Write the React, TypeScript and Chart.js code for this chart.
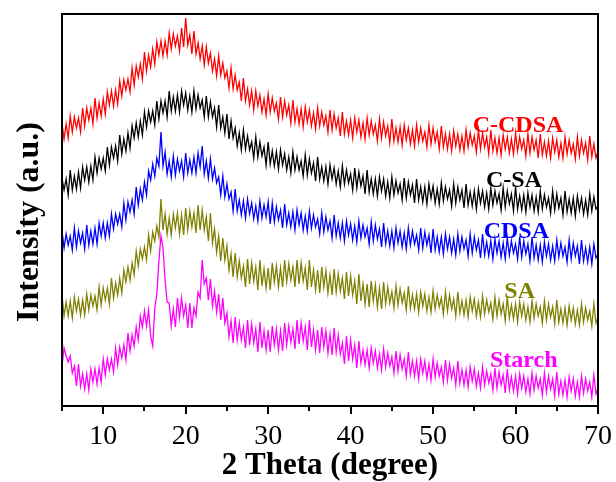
import React, { useEffect, useRef } from "react";
import { Chart, registerables } from "chart.js";
Chart.register(...registerables);

// 2θ grid (degree), 0.25° step
const twoTheta = [
  5, 5.25, 5.5, 5.75, 6, 6.25, 6.5, 6.75, 7, 7.25, 7.5, 7.75, 8, 8.25, 8.5, 8.75, 9, 9.25, 9.5, 9.75,
  10, 10.25, 10.5, 10.75, 11, 11.25, 11.5, 11.75, 12, 12.25, 12.5, 12.75, 13, 13.25, 13.5, 13.75, 14, 14.25, 14.5, 14.75,
  15, 15.25, 15.5, 15.75, 16, 16.25, 16.5, 16.75, 17, 17.25, 17.5, 17.75, 18, 18.25, 18.5, 18.75, 19, 19.25, 19.5, 19.75,
  20, 20.25, 20.5, 20.75, 21, 21.25, 21.5, 21.75, 22, 22.25, 22.5, 22.75, 23, 23.25, 23.5, 23.75, 24, 24.25, 24.5, 24.75,
  25, 25.25, 25.5, 25.75, 26, 26.25, 26.5, 26.75, 27, 27.25, 27.5, 27.75, 28, 28.25, 28.5, 28.75, 29, 29.25, 29.5, 29.75,
  30, 30.25, 30.5, 30.75, 31, 31.25, 31.5, 31.75, 32, 32.25, 32.5, 32.75, 33, 33.25, 33.5, 33.75, 34, 34.25, 34.5, 34.75,
  35, 35.25, 35.5, 35.75, 36, 36.25, 36.5, 36.75, 37, 37.25, 37.5, 37.75, 38, 38.25, 38.5, 38.75, 39, 39.25, 39.5, 39.75,
  40, 40.25, 40.5, 40.75, 41, 41.25, 41.5, 41.75, 42, 42.25, 42.5, 42.75, 43, 43.25, 43.5, 43.75, 44, 44.25, 44.5, 44.75,
  45, 45.25, 45.5, 45.75, 46, 46.25, 46.5, 46.75, 47, 47.25, 47.5, 47.75, 48, 48.25, 48.5, 48.75, 49, 49.25, 49.5, 49.75,
  50, 50.25, 50.5, 50.75, 51, 51.25, 51.5, 51.75, 52, 52.25, 52.5, 52.75, 53, 53.25, 53.5, 53.75, 54, 54.25, 54.5, 54.75,
  55, 55.25, 55.5, 55.75, 56, 56.25, 56.5, 56.75, 57, 57.25, 57.5, 57.75, 58, 58.25, 58.5, 58.75, 59, 59.25, 59.5, 59.75,
  60, 60.25, 60.5, 60.75, 61, 61.25, 61.5, 61.75, 62, 62.25, 62.5, 62.75, 63, 63.25, 63.5, 63.75, 64, 64.25, 64.5, 64.75,
  65, 65.25, 65.5, 65.75, 66, 66.25, 66.5, 66.75, 67, 67.25, 67.5, 67.75, 68, 68.25, 68.5, 68.75, 69, 69.25, 69.5, 69.75,
  70,
];

// intensities (a.u.), curves stacked with offsets as in the figure
const cCDSA = [
  283, 267, 282, 268, 290, 274, 289, 278, 288, 274, 298, 280, 298, 286, 298, 282, 308, 288, 303, 290,
  307, 292, 314, 301, 315, 300, 316, 302, 325, 310, 326, 316, 327, 314, 338, 321, 340, 329, 342, 327,
  354, 335, 351, 339, 357, 342, 364, 351, 365, 350, 365, 351, 373, 357, 372, 360, 370, 355, 378, 359,
  388, 361, 371, 352, 375, 352, 363, 347, 360, 341, 359, 343, 353, 335, 347, 330, 350, 331, 343, 328,
  335, 318, 338, 317, 331, 316, 324, 305, 328, 305, 317, 301, 315, 296, 315, 300, 311, 294, 307, 291,
  312, 294, 308, 295, 303, 287, 309, 289, 305, 291, 301, 283, 306, 284, 297, 282, 297, 279, 299, 284,
  296, 280, 293, 277, 298, 280, 294, 281, 290, 274, 296, 276, 292, 278, 288, 270, 294, 272, 285, 271,
  286, 268, 288, 274, 286, 269, 283, 267, 288, 271, 285, 272, 281, 265, 287, 268, 284, 270, 280, 263,
  287, 265, 278, 264, 279, 261, 281, 266, 278, 262, 276, 260, 281, 264, 278, 265, 274, 259, 281, 262,
  278, 264, 274, 257, 280, 259, 272, 257, 272, 255, 275, 260, 272, 256, 270, 255, 276, 259, 273, 261,
  270, 254, 276, 257, 273, 259, 269, 252, 276, 255, 268, 253, 268, 251, 271, 257, 269, 253, 267, 252,
  273, 255, 269, 257, 266, 250, 272, 253, 269, 256, 266, 248, 272, 251, 264, 250, 265, 248, 268, 254,
  266, 249, 263, 248, 269, 252, 266, 253, 262, 247, 269, 250, 266, 253, 263, 246, 270, 249, 262, 248,
  255,
];

const cSA = [
  228, 216, 227, 211, 236, 216, 230, 217, 234, 218, 239, 226, 239, 224, 240, 226, 249, 233, 248, 237,
  248, 235, 259, 241, 259, 248, 260, 245, 271, 252, 267, 255, 273, 258, 280, 268, 283, 269, 285, 271,
  294, 279, 295, 284, 295, 281, 305, 287, 305, 293, 305, 289, 315, 295, 309, 295, 311, 294, 315, 301,
  313, 296, 310, 294, 315, 297, 311, 298, 306, 289, 310, 289, 304, 289, 298, 279, 301, 278, 289, 273,
  292, 267, 285, 268, 278, 260, 273, 256, 276, 257, 270, 256, 264, 248, 269, 249, 264, 250, 259, 241,
  264, 242, 255, 240, 254, 237, 256, 241, 252, 236, 249, 233, 254, 236, 249, 236, 245, 230, 251, 231,
  247, 233, 243, 225, 249, 227, 239, 225, 239, 222, 241, 227, 238, 222, 235, 219, 240, 222, 236, 223,
  232, 216, 238, 218, 234, 220, 230, 212, 236, 214, 227, 212, 227, 210, 229, 215, 227, 210, 224, 208,
  229, 211, 225, 213, 222, 206, 228, 208, 224, 211, 221, 203, 227, 206, 219, 204, 219, 202, 222, 208,
  220, 203, 217, 202, 223, 205, 219, 207, 216, 200, 222, 203, 219, 206, 216, 198, 222, 201, 214, 200,
  215, 197, 217, 203, 215, 199, 213, 197, 218, 201, 215, 203, 212, 196, 218, 199, 215, 202, 212, 195,
  219, 197, 210, 196, 211, 194, 213, 199, 211, 195, 209, 194, 215, 197, 211, 199, 208, 193, 215, 196,
  212, 198, 208, 191, 215, 194, 207, 193, 208, 190, 210, 196, 208, 192, 206, 191, 212, 195, 209, 197,
  200,
];

const cdsa = [
  175, 158, 172, 161, 170, 156, 178, 159, 175, 163, 173, 157, 181, 161, 175, 162, 178, 162, 183, 170,
  183, 168, 183, 170, 192, 177, 192, 182, 192, 179, 203, 186, 204, 194, 206, 192, 219, 201, 217, 206,
  224, 211, 235, 226, 242, 230, 248, 240, 274, 240, 254, 232, 245, 229, 250, 231, 247, 235, 245, 229,
  253, 233, 246, 233, 249, 233, 253, 239, 260, 232, 245, 228, 247, 227, 238, 223, 229, 211, 230, 209,
  222, 207, 214, 195, 217, 195, 206, 191, 205, 188, 207, 192, 203, 187, 200, 185, 205, 188, 201, 189,
  204, 182, 203, 184, 199, 186, 196, 178, 202, 181, 193, 179, 194, 176, 196, 181, 193, 176, 190, 175,
  195, 178, 191, 179, 187, 172, 193, 174, 189, 176, 185, 168, 191, 170, 183, 168, 183, 165, 185, 171,
  182, 166, 180, 164, 185, 168, 181, 169, 178, 162, 184, 165, 181, 167, 177, 159, 183, 162, 175, 160,
  175, 158, 178, 163, 175, 159, 173, 157, 178, 161, 175, 162, 171, 156, 178, 158, 174, 161, 171, 153,
  177, 156, 169, 154, 169, 152, 172, 157, 169, 153, 167, 151, 172, 155, 169, 157, 166, 150, 172, 153,
  169, 156, 166, 148, 172, 151, 164, 150, 165, 147, 167, 153, 165, 149, 163, 147, 168, 151, 165, 153,
  162, 147, 169, 149, 165, 152, 162, 145, 169, 148, 161, 146, 161, 144, 164, 150, 162, 146, 160, 145,
  166, 149, 163, 150, 159, 144, 166, 147, 163, 150, 160, 142, 166, 145, 158, 144, 159, 142, 162, 148,
  152,
];

const sa = [
  111, 90, 104, 90, 105, 88, 109, 95, 107, 91, 106, 91, 112, 96, 111, 100, 110, 96, 119, 101,
  118, 106, 118, 102, 128, 108, 123, 111, 128, 113, 136, 124, 139, 126, 143, 131, 155, 140, 157, 147,
  159, 146, 171, 155, 174, 165, 180, 169, 207, 176, 192, 172, 188, 171, 192, 178, 193, 172, 191, 171,
  198, 176, 195, 179, 193, 173, 201, 176, 196, 176, 189, 165, 193, 163, 177, 154, 170, 145, 168, 146,
  160, 136, 152, 129, 153, 129, 145, 128, 140, 119, 147, 122, 143, 125, 139, 116, 146, 120, 137, 118,
  138, 116, 143, 124, 140, 119, 138, 119, 146, 124, 142, 126, 139, 119, 146, 122, 143, 125, 138, 116,
  146, 119, 136, 116, 136, 113, 139, 119, 135, 113, 131, 111, 137, 114, 132, 115, 128, 107, 134, 110,
  130, 111, 125, 102, 132, 105, 122, 102, 122, 99, 125, 105, 121, 99, 118, 97, 124, 102, 119, 103,
  114, 98, 120, 101, 117, 103, 113, 96, 120, 98, 111, 97, 112, 94, 114, 100, 112, 95, 109, 94,
  115, 97, 111, 99, 108, 92, 114, 95, 111, 97, 107, 90, 114, 93, 105, 91, 106, 89, 109, 95,
  107, 90, 104, 89, 110, 92, 106, 94, 103, 87, 109, 90, 106, 92, 102, 85, 109, 88, 101, 87,
  102, 84, 104, 90, 102, 86, 99, 84, 105, 88, 102, 90, 99, 83, 105, 86, 102, 89, 99, 82,
  106, 84, 97, 83, 98, 81, 100, 86, 98, 82, 96, 81, 102, 84, 98, 86, 95, 80, 102, 83,
  89,
];

const starch = [
  40, 58, 50, 44, 50, 33, 40, 20, 42, 20, 32, 17, 32, 16, 37, 24, 37, 22, 38, 24,
  47, 31, 47, 36, 47, 34, 58, 41, 59, 48, 61, 46, 73, 55, 71, 60, 79, 66, 90, 79,
  95, 80, 96, 70, 60, 98, 112, 145, 170, 158, 126, 104, 103, 80, 97, 79, 108, 88, 108, 90,
  101, 78, 103, 78, 98, 90, 114, 108, 146, 122, 128, 106, 127, 100, 115, 94, 112, 86, 108, 83,
  93, 69, 85, 63, 89, 66, 83, 66, 79, 58, 86, 61, 82, 63, 77, 54, 84, 58, 75, 56,
  76, 54, 80, 61, 77, 56, 75, 55, 83, 61, 80, 64, 77, 57, 86, 62, 83, 65, 79, 56,
  86, 59, 76, 56, 76, 53, 79, 59, 75, 53, 72, 51, 78, 54, 71, 52, 63, 42, 70, 45,
  66, 47, 61, 38, 65, 43, 56, 41, 56, 38, 58, 43, 55, 38, 52, 36, 57, 39, 53, 40,
  49, 33, 55, 35, 51, 37, 47, 30, 54, 32, 45, 30, 45, 27, 47, 33, 45, 28, 42, 26,
  47, 29, 43, 30, 39, 24, 46, 26, 42, 28, 38, 21, 45, 23, 36, 21, 36, 19, 39, 25,
  37, 20, 33, 18, 39, 21, 35, 23, 32, 16, 38, 18, 34, 21, 31, 13, 37, 16, 29, 15,
  30, 12, 32, 18, 30, 14, 27, 12, 33, 16, 30, 18, 27, 11, 33, 14, 30, 17, 27, 10,
  34, 12, 25, 11, 26, 9, 29, 15, 27, 10, 24, 9, 30, 13, 27, 15, 24, 9, 31, 12,
  18,
];

const seriesNames = ["C-CDSA", "C-SA", "CDSA", "SA", "Starch"];
const seriesValues = [cCDSA, cSA, cdsa, sa, starch];
const seriesColors = ["#ff0000", "#000000", "#0000ff", "#808000", "#ff00ff"];

// label anchor (2θ, intensity) for each series name
const labelTheta = [60.3, 59.8, 60.1, 60.5, 61.0];
const labelIntensity = [274, 219, 168, 108, 39];

const xMajorTicks = [10, 20, 30, 40, 50, 60, 70];
const xMinorTicks = [5, 15, 25, 35, 45, 55, 65];
const xTitle = "2 Theta (degree)";
const yTitle = "Intensity (a.u.)";

const SERIF = '"Liberation Serif", "Times New Roman", serif';

export default function App() {
  const canvasRef = useRef<HTMLCanvasElement | null>(null);

  useEffect(() => {
    if (!canvasRef.current) return;

    const decor = {
      id: "decor",
      afterDatasetsDraw(chart: any) {
        const { ctx, chartArea: a, scales } = chart;
        const x = scales.x;
        const y = scales.y;
        ctx.save();
        ctx.strokeStyle = "#000";
        ctx.lineWidth = 2;
        ctx.strokeRect(a.left, a.top, a.right - a.left, a.bottom - a.top);
        xMajorTicks.forEach((v) => {
          const px = Math.round(x.getPixelForValue(v));
          ctx.beginPath();
          ctx.moveTo(px, a.bottom);
          ctx.lineTo(px, a.bottom + 8);
          ctx.stroke();
        });
        xMinorTicks.forEach((v) => {
          const px = Math.round(x.getPixelForValue(v));
          ctx.beginPath();
          ctx.moveTo(px, a.bottom);
          ctx.lineTo(px, a.bottom + 5);
          ctx.stroke();
        });

        ctx.font = `bold 24px ${SERIF}`;
        ctx.textAlign = "center";
        ctx.textBaseline = "alphabetic";
        seriesNames.forEach((n, i) => {
          ctx.fillStyle = seriesColors[i];
          ctx.fillText(n, x.getPixelForValue(labelTheta[i]), y.getPixelForValue(labelIntensity[i]));
        });

        ctx.fillStyle = "#000";
        ctx.font = `bold 31px ${SERIF}`;
        ctx.fillText(xTitle, (a.left + a.right) / 2, 474);

        ctx.save();
        ctx.translate(38, 222);
        ctx.rotate(-Math.PI / 2);
        ctx.font = `bold 32px ${SERIF}`;
        ctx.fillText(yTitle, 0, 0);
        ctx.restore();
        ctx.restore();
      },
    };

    const chart = new Chart(canvasRef.current, {
      type: "line",
      data: {
        datasets: seriesValues.map((vals, i) => ({
          label: seriesNames[i],
          data: twoTheta.map((t, k) => ({ x: t, y: vals[k] })),
          borderColor: seriesColors[i],
          borderWidth: 1.3,
          pointRadius: 0,
          fill: false,
          tension: 0,
        })),
      },
      options: {
        responsive: false,
        animation: false,
        devicePixelRatio: 1,
        layout: { padding: { left: 62, right: 18, top: 14, bottom: 0 } },
        plugins: { legend: { display: false }, tooltip: { enabled: false } },
        scales: {
          x: {
            type: "linear",
            min: 5,
            max: 70,
            grid: { display: false, drawTicks: false },
            border: { display: false },
            afterBuildTicks: (scale: any) => {
              scale.ticks = xMajorTicks.map((v) => ({ value: v }));
            },
            afterFit: (scale: any) => {
              scale.height = 76;
              scale.paddingLeft = 0;
              scale.paddingRight = 0;
            },
            ticks: {
              padding: 14,
              color: "#000",
              font: { family: SERIF, size: 28 },
              maxRotation: 0,
              autoSkip: false,
            },
          },
          y: {
            display: false,
            min: 0,
            max: 392,
          },
        },
      },
      plugins: [decor],
    } as any);

    return () => chart.destroy();
  }, []);

  return (
    <div style={{ position: "absolute", left: 0, top: 0, width: 616, height: 482, background: "#fff" }}>
      <canvas ref={canvasRef} width={616} height={482} />
    </div>
  );
}
